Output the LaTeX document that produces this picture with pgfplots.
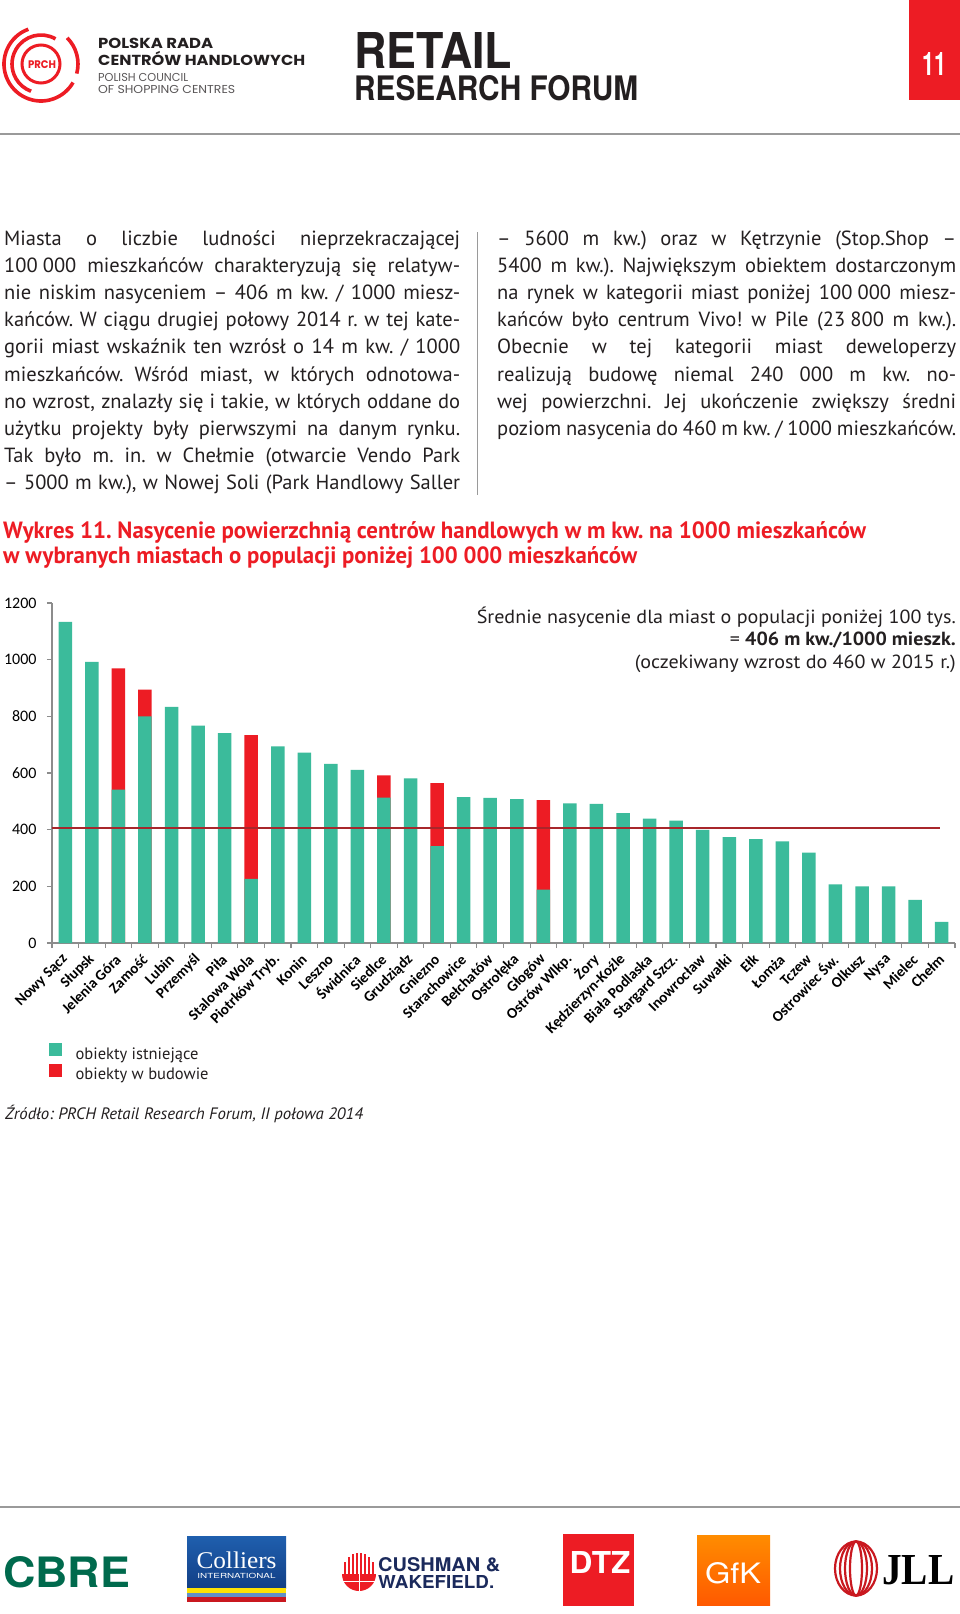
\documentclass[border=0pt]{standalone}
\usepackage{fontspec}
\setmainfont{PT Sans}
\newfontfamily\carlito{Carlito}
\newfontfamily\heros{TeX Gyre Heros}
\newfontfamily\pop{Poppins}
\newfontfamily\lserif{Liberation Serif}
\usepackage{graphicx}
\usepackage{pgfplots}
\pgfplotsset{compat=1.18}
\frenchspacing

\definecolor{prchgreen}{HTML}{3BBB9B}
\definecolor{prchred}{HTML}{ED1C24}
\definecolor{avgred}{HTML}{A8262B}
\definecolor{axisgray}{HTML}{8C8C8C}
\definecolor{textgray}{HTML}{231F20}
\definecolor{rulegray}{HTML}{9A9A9A}
\definecolor{cbregreen}{HTML}{006A4D}
\definecolor{cwnavy}{HTML}{1B2A5C}
\definecolor{collblue}{HTML}{1F5FAE}
\definecolor{collblued}{HTML}{123F86}

\newcommand{\jl}[2]{\makebox[#1][s]{#2}\par}

\begin{document}
\begin{tikzpicture}[x=1pt,y=1pt]
\path[use as bounding box] (0,0) rectangle (960,-1614);
\fill[white] (0,0) rectangle (960,-1614);

% ---- header
\begin{scope}[prchred, line width=3.6pt]
  \draw ([shift=(110:37)]41,-64) arc[start angle=110, end angle=330, radius=37];
  \draw ([shift=(-15:37)]41,-64) arc[start angle=-15, end angle=45, radius=37];
  \draw ([shift=(60:29)]41,-64) arc[start angle=60, end angle=250, radius=29];
  \draw[line width=3pt] (41,-64) circle[radius=19];
\end{scope}
\node[anchor=base, inner sep=0, text=prchred] at (42,-68)
  {\resizebox{28pt}{\height}{\pop\bfseries\fontsize{11}{11}\selectfont PRCH}};
\node[anchor=base west, inner sep=0, text=textgray] at (98,-48)
  {\resizebox{115pt}{\height}{\pop\bfseries\fontsize{14.5}{14.5}\selectfont POLSKA RADA}};
\node[anchor=base west, inner sep=0, text=textgray] at (98,-65)
  {\resizebox{207pt}{\height}{\pop\bfseries\fontsize{14.5}{14.5}\selectfont CENTRÓW HANDLOWYCH}};
\node[anchor=base west, inner sep=0, text=textgray!75] at (98,-81)
  {\resizebox{90pt}{\height}{\pop\fontsize{11.5}{11.5}\selectfont POLISH COUNCIL}};
\node[anchor=base west, inner sep=0, text=textgray!75] at (98,-93)
  {\resizebox{137pt}{\height}{\pop\fontsize{11.5}{11.5}\selectfont OF SHOPPING CENTRES}};
\node[anchor=base west, inner sep=0, text=textgray] at (354,-68)
  {\resizebox{158pt}{36pt}{\heros\bfseries RETAIL}};
\node[anchor=base west, inner sep=0, text=textgray] at (354,-100)
  {\resizebox{284pt}{25pt}{\heros\bfseries RESEARCH FORUM}};
\fill[prchred] (909,0) rectangle (960,-100);
\node[anchor=base, inner sep=0, text=white] at (934,-75)
  {\resizebox{24pt}{23pt}{\heros\bfseries 11}};
\draw[rulegray, line width=1.5pt] (0,-134) -- (960,-134);

% ---- body text
\node[anchor=base west, inner sep=0, text=textgray] at (4,-245) {\parbox[t]{456pt}{%
  \fontsize{20.5}{27.2}\selectfont
  \jl{456pt}{Miasta o liczbie ludności nieprzekraczającej}
  \jl{456pt}{100\kern.25em000 mieszkańców charakteryzują się relatyw-}
  \jl{456pt}{nie niskim nasyceniem – 406 m kw. / 1000 miesz-}
  \jl{456pt}{kańców. W ciągu drugiej połowy 2014 r. w tej kate-}
  \jl{456pt}{gorii miast wskaźnik ten wzrósł o 14 m kw. / 1000}
  \jl{456pt}{mieszkańców. Wśród miast, w których odnotowa-}
  \jl{456pt}{no wzrost, znalazły się i takie, w których oddane do}
  \jl{456pt}{użytku projekty były pierwszymi na danym rynku.}
  \jl{456pt}{Tak było m. in. w Chełmie (otwarcie Vendo Park}
  \jl{456pt}{– 5000 m kw.), w Nowej Soli (Park Handlowy Saller}}};
\draw[rulegray, line width=1pt] (477,-232) -- (477,-495);
\node[anchor=base west, inner sep=0, text=textgray] at (497,-245) {\parbox[t]{459pt}{%
  \fontsize{20.5}{27.2}\selectfont
  \jl{459pt}{– 5600 m kw.) oraz w Kętrzynie (Stop.Shop –}
  \jl{459pt}{5400 m kw.). Największym obiektem dostarczonym}
  \jl{459pt}{na rynek w kategorii miast poniżej 100\kern.25em000 miesz-}
  \jl{459pt}{kańców było centrum Vivo! w Pile (23\kern.25em800 m kw.).}
  \jl{459pt}{Obecnie w tej kategorii miast deweloperzy}
  \jl{459pt}{realizują budowę niemal 240 000 m kw. no-}
  \jl{459pt}{wej powierzchni. Jej ukończenie zwiększy średni}
  \jl{459pt}{poziom nasycenia do 460 m kw. / 1000 mieszkańców.}}};

% ---- chart title
\node[anchor=base west, inner sep=0, text=prchred] at (3,-538)
  {\resizebox{863pt}{\height}{\bfseries\fontsize{23.5}{23.5}\selectfont Wykres 11. Nasycenie powierzchnią centrów handlowych w m kw. na 1000 mieszkańców}};
\node[anchor=base west, inner sep=0, text=prchred] at (3,-563)
  {\resizebox{634pt}{\height}{\bfseries\fontsize{23.5}{23.5}\selectfont w wybranych miastach o populacji poniżej 100 000 mieszkańców}};

% ---- chart
\begin{axis}[
  at={(52pt,-943pt)}, anchor=south west,
  scale only axis, width=903pt, height=340pt,
  ybar, bar width=13.5pt, bar shift=0pt,
  xmin=-0.5, xmax=33.5, ymin=0, ymax=1200,
  axis x line=bottom, axis y line=left,
  axis line style={-, draw=axisgray, line width=1.3pt},
  tick align=outside,
  tick style={draw=axisgray, line width=1.1pt},
  major tick length=5pt, minor tick length=5pt,
  ytick={0,200,...,1200},
  xtick={0,...,33},
  minor xtick={-0.5,0.5,...,33.5},
  major x tick style={draw=none},
  xticklabels={Nowy Sącz, Słupsk, Jelenia Góra, Zamość, Lubin, Przemyśl, Piła,
    Stalowa Wola, Piotrków Tryb., Konin, Leszno, Świdnica, Siedlce, Grudziądz,
    Gniezno, Starachowice, Bełchatów, Ostrołęka, Głogów, Ostrów Wlkp., Żory,
    Kędzierzyn-Koźle, Biała Podlaska, Stargard Szcz., Inowrocław, Suwałki, Ełk,
    Łomża, Tczew, Ostrowiec Św., Olkusz, Nysa, Mielec, Chełm},
  xticklabel style={font=\carlito\bfseries\fontsize{15}{15}\selectfont, rotate=45, anchor=east, inner sep=0pt},
  xticklabel shift=9pt,
  yticklabel style={font=\carlito\fontsize{16}{16}\selectfont, text=black, xshift=-7pt},
  /pgf/number format/assume math mode=true,
  /pgf/number format/1000 sep={},
  legend style={draw=none, fill=none, at={(0,0)}, anchor=north west,
    xshift=-6pt, yshift=-98pt, font=\fontsize{16.5}{16.5}\selectfont, text=textgray,
    row sep=1pt, nodes={inner sep=2pt},
    /tikz/every odd column/.append style={column sep=12pt}},
  legend cell align=left,
]
\addlegendimage{legend image code/.code={\fill[prchgreen] (0pt,-1.5pt) rectangle (12pt,10.5pt);}}
\addlegendentry{obiekty istniejące}
\addlegendimage{legend image code/.code={\fill[prchred] (0pt,-1.5pt) rectangle (12pt,10.5pt);}}
\addlegendentry{obiekty w budowie}
% total incl. objects under construction
\addplot[fill=prchred, draw=none, forget plot] coordinates {
  (2,969) (3,894) (7,734) (12,592) (14,564) (18,504)};
% existing objects
\addplot[fill=prchgreen, draw=none, forget plot] coordinates {
  (0,1133) (1,992) (2,541) (3,800) (4,833) (5,767) (6,741) (7,226) (8,694)
  (9,672) (10,632) (11,611) (12,513) (13,581) (14,342) (15,515) (16,512)
  (17,508) (18,188) (19,493) (20,491) (21,458) (22,439) (23,432) (24,399)
  (25,374) (26,367) (27,359) (28,319) (29,207) (30,200) (31,200) (32,152)
  (33,75)};
% average
\addplot[sharp plot, mark=none, draw=avgred, line width=2pt, forget plot]
  coordinates {(-0.5,406) (32.93,406)};
\end{axis}

\node[anchor=base east, inner sep=0, text=textgray] at (956,-623)
  {\resizebox{479pt}{\height}{\fontsize{19}{19}\selectfont Średnie nasycenie dla miast o populacji poniżej 100 tys.}};
\node[anchor=base east, inner sep=0, text=textgray] at (956,-645)
  {\resizebox{226pt}{\height}{\fontsize{19}{19}\selectfont = \textbf{406 m kw./1000 mieszk.}}};
\node[anchor=base east, inner sep=0, text=textgray] at (956,-668)
  {\resizebox{321pt}{\height}{\fontsize{19}{19}\selectfont (oczekiwany wzrost do 460 w 2015 r.)}};

\node[anchor=base west, inner sep=0, text=textgray] at (5,-1119)
  {\resizebox{358pt}{\height}{\itshape\fontsize{16.5}{16.5}\selectfont Źródło: PRCH Retail Research Forum, II połowa 2014}};

% ---- footer
\draw[rulegray, line width=1.5pt] (0,-1507) -- (960,-1507);
\node[anchor=base west, inner sep=0, text=cbregreen] at (3,-1587)
  {\resizebox{127pt}{31pt}{\heros\bfseries CBRE}};
% Colliers
\shade[top color=collblue, bottom color=collblued] (187,-1536) rectangle (286,-1588);
\fill[yellow!85!orange] (187,-1588) rectangle (286,-1593);
\fill[collblue!70!white] (187,-1593) rectangle (286,-1597);
\fill[prchred!85!black] (187,-1597) rectangle (286,-1602);
\node[anchor=base, inner sep=0, text=white] at (236.5,-1568)
  {\resizebox{80pt}{\height}{\lserif\fontsize{24}{24}\selectfont Colliers}};
\node[anchor=base, inner sep=0, text=white] at (236.5,-1578)
  {\resizebox{78pt}{\height}{\heros\fontsize{7}{7}\selectfont INTERNATIONAL}};
% Cushman & Wakefield
\begin{scope}[prchred]
  \fill (342,-1574) arc[start angle=180, end angle=360, radius=17] -- cycle;
  \foreach \xx/\hh in {344/1562,348/1557,352/1554,356/1553,360/1553,364/1554,368/1557,372/1562}
    \fill (\xx,-\hh) rectangle (\xx+2.4,-1574);
  \draw[white, line width=1pt] (343,-1581) -- (375,-1581);
  \draw[white, line width=1pt] (359,-1574) -- (359,-1591);
\end{scope}
\node[anchor=base west, inner sep=0, text=cwnavy] at (378,-1571)
  {\resizebox{122pt}{14pt}{\heros\bfseries CUSHMAN \&}};
\node[anchor=base west, inner sep=0, text=cwnavy] at (378,-1588)
  {\resizebox{116pt}{13pt}{\heros\bfseries WAKEFIELD.}};
% DTZ
\fill[prchred] (563,-1534) rectangle (634,-1606);
\node[anchor=base, inner sep=0, text=white] at (600,-1573)
  {\resizebox{61pt}{22pt}{\heros\bfseries DTZ}};
% GfK
\shade[top color=orange!90!yellow, bottom color=orange!70!red] (697,-1535) rectangle (770,-1605);
\node[anchor=base, inner sep=0, text=white] at (733,-1583)
  {\resizebox{56pt}{21pt}{\heros GfK}};
% JLL
\begin{scope}[prchred!85!black, line width=2.2pt]
  \foreach \rx in {6,11,16,21}
    \draw (856,-1568.5) ellipse[x radius=\rx, y radius=27];
\end{scope}
\node[anchor=base west, inner sep=0, text=black] at (882,-1584)
  {\resizebox{72pt}{29pt}{\lserif\bfseries JLL}};
\end{tikzpicture}
\end{document}
